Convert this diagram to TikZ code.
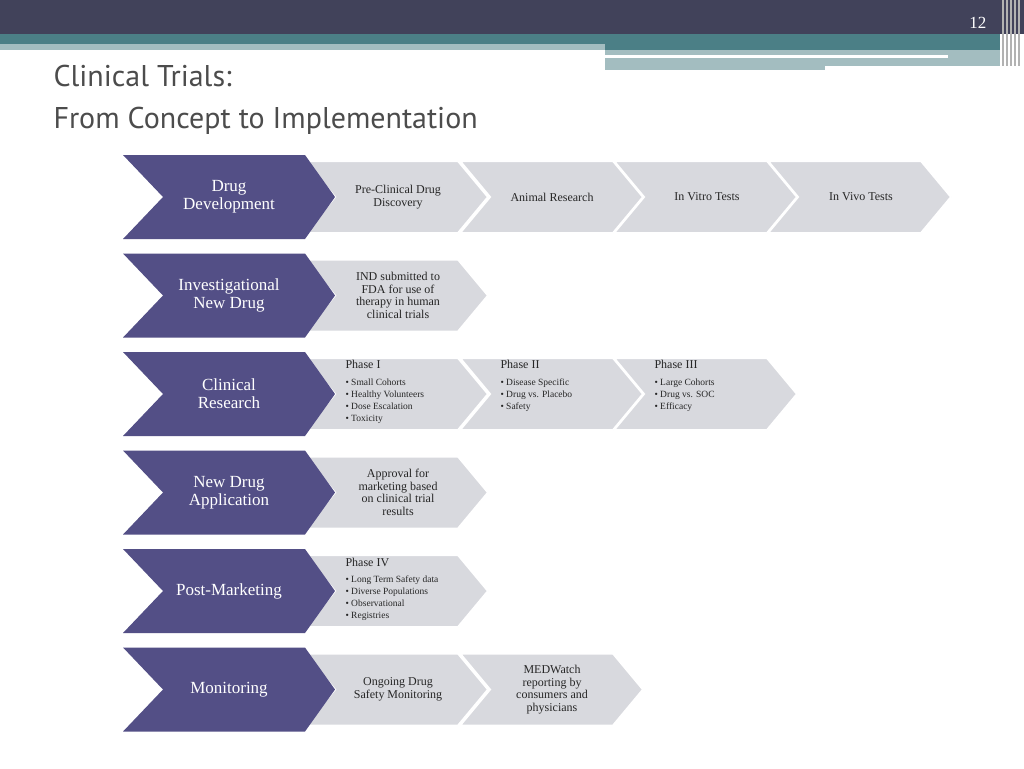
\documentclass[tikz,border=0pt]{standalone}
\usepackage{fontspec}
\setmainfont{Liberation Serif}
\newfontfamily\titlefont{PT Sans}
\begin{document}
\begin{tikzpicture}[x=1pt,y=-1pt,
  dk/.style={fill=cDark,draw=none},
  lt/.style={fill=cLight,draw=white,line width=2pt},
  dkt/.style={text=white,font=\fontsize{17}{18}\selectfont,align=center},
  ltt/.style={text=black!85,font=\fontsize{12}{12.5}\selectfont,align=center},
  ph/.style={text=black!85,font=\fontsize{12}{13}\selectfont,anchor=north west,align=left},
  bl/.style={text=black!85,font=\fontsize{9.5}{12}\selectfont,anchor=north west,align=left}]
\definecolor{cDark}{HTML}{534F86}
\definecolor{cLight}{HTML}{D8D9DE}
\definecolor{cBar}{HTML}{41425A}
\definecolor{cTeal}{HTML}{4B7F86}
\definecolor{cTealL}{HTML}{A3BDC0}
\useasboundingbox (0,0) rectangle (1024,768);
\fill[white] (0,0) rectangle (1024,768);
% header
\fill[cBar] (0,0) rectangle (1024,34);
\fill[cTeal] (0,34) rectangle (1000,50);
\fill[cTealL] (0,44) rectangle (605,50);
\fill[cTealL] (605,50) rectangle (1000,70);
\fill[white] (605,55) rectangle (948,58);
\fill[white] (825,66) rectangle (1000,70);
\foreach \xx in {1002,1006,1010,1014,1018}{\fill[gray!60] (\xx,0) rectangle (\xx+1.5,66);}
\node[text=white,font=\fontsize{17}{17}\selectfont,anchor=east] (pg) at (990,23) {12};
\node[anchor=north west,text=black!70,font=\titlefont\fontsize{30}{42}\selectfont,align=left] (title) at (50,62) {Clinical Trials:\\From Concept to Implementation};
% chevrons
\newcommand{\lchev}[3]{% x, ycenter, name
  \draw[lt] (#1,#2-36) -- (#1+153,#2-36) -- (#1+183,#2) -- (#1+153,#2+36) -- (#1,#2+36) -- (#1+30,#2) -- cycle;
  \coordinate (#3) at (#1+92,#2);}
\newcommand{\dchev}[3]{%
  \fill[dk] (123,#1-42) -- (305,#1-42) -- (335,#1) -- (305,#1+42) -- (123,#1+42) -- (163,#1) -- cycle;
  \node[dkt] (#2) at (229,#1) {#3};}
% row 1
\lchev{768}{197}{r1d}\lchev{614}{197}{r1c}\lchev{460}{197}{r1b}\lchev{305}{197}{r1a}
\dchev{197}{d1}{Drug\\Development}
\node[ltt] (t1a) at (398,197) {Pre-Clinical Drug\\Discovery};
\node[ltt] (t1b) at (552,197) {Animal Research};
\node[ltt] (t1c) at (707,197) {In Vitro Tests};
\node[ltt] (t1d) at (861,197) {In Vivo Tests};
% row 2
\lchev{305}{295.5}{r2a}
\dchev{295.5}{d2}{Investigational\\New Drug}
\node[ltt] (t2a) at (398,295.5) {IND submitted to\\FDA for use of\\therapy in human\\clinical trials};
% row 3
\lchev{614}{394}{r3c}\lchev{460}{394}{r3b}\lchev{305}{394}{r3a}
\dchev{394}{d3}{Clinical\\Research}
\node[ph] (p1) at (342,357) {Phase I};
\node[bl] (b1) at (342,375) {• Small Cohorts\\• Healthy Volunteers\\• Dose Escalation\\• Toxicity};
\node[ph] (p2) at (497,357) {Phase II};
\node[bl] (b2) at (497,375) {• Disease Specific\\• Drug vs. Placebo\\• Safety};
\node[ph] (p3) at (651,357) {Phase III};
\node[bl] (b3) at (651,375) {• Large Cohorts\\• Drug vs. SOC\\• Efficacy};
% row 4
\lchev{305}{492.5}{r4a}
\dchev{492.5}{d4}{New Drug\\Application}
\node[ltt] (t4a) at (398,492.5) {Approval for\\marketing based\\on clinical trial\\results};
% row 5
\lchev{305}{591}{r5a}
\dchev{591}{d5}{Post-Marketing}
\node[ph] (p4) at (342,555) {Phase IV};
\node[bl] (b4) at (342,572) {• Long Term Safety data\\• Diverse Populations\\• Observational\\• Registries};
% row 6
\lchev{460}{689.5}{r6b}\lchev{305}{689.5}{r6a}
\dchev{689.5}{d6}{Monitoring}
\node[ltt] (t6a) at (398,689.5) {Ongoing Drug\\Safety Monitoring};
\node[ltt] (t6b) at (552,689.5) {MEDWatch\\reporting by\\consumers and\\physicians};
\end{tikzpicture}
\end{document}
